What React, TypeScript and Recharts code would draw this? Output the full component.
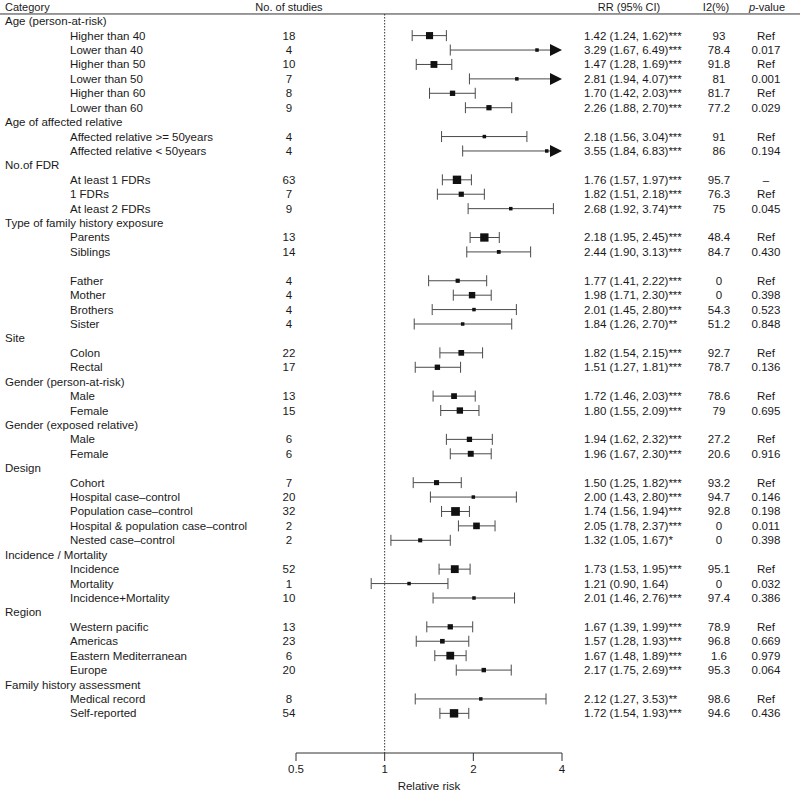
import { ReferenceLine, Scatter, ScatterChart, XAxis, YAxis } from 'recharts'

// one entry per table row; null marks group headings and the blank spacer row
const rowLabels = [
  'Age (person-at-risk)', 'Higher than 40', 'Lower than 40', 'Higher than 50', 'Lower than 50',
  'Higher than 60', 'Lower than 60',
  'Age of affected relative', 'Affected relative >= 50years', 'Affected relative < 50years',
  'No.of FDR', 'At least 1 FDRs', '1 FDRs', 'At least 2 FDRs',
  'Type of family history exposure', 'Parents', 'Siblings', '', 'Father', 'Mother', 'Brothers', 'Sister',
  'Site', 'Colon', 'Rectal',
  'Gender (person-at-risk)', 'Male', 'Female',
  'Gender (exposed relative)', 'Male', 'Female',
  'Design', 'Cohort', 'Hospital case–control', 'Population case–control',
  'Hospital & population case–control', 'Nested case–control',
  'Incidence / Mortality', 'Incidence', 'Mortality', 'Incidence+Mortality',
  'Region', 'Western pacific', 'Americas', 'Eastern Mediterranean', 'Europe',
  'Family history assessment', 'Medical record', 'Self-reported',
]

const groupRows = [0, 7, 10, 14, 22, 25, 28, 31, 37, 41, 46]

const studies = [
  null, 18, 4, 10, 7, 8, 9, null, 4, 4, null, 63, 7, 9, null, 13, 14, null, 4, 4, 4, 4,
  null, 22, 17, null, 13, 15, null, 6, 6, null, 7, 20, 32, 2, 2, null, 52, 1, 10,
  null, 13, 23, 6, 20, null, 8, 54,
]

const rr = [
  null, 1.42, 3.29, 1.47, 2.81, 1.7, 2.26, null, 2.18, 3.55, null, 1.76, 1.82, 2.68, null, 2.18, 2.44, null,
  1.77, 1.98, 2.01, 1.84, null, 1.82, 1.51, null, 1.72, 1.8, null, 1.94, 1.96, null,
  1.5, 2.0, 1.74, 2.05, 1.32, null, 1.73, 1.21, 2.01, null, 1.67, 1.57, 1.67, 2.17, null, 2.12, 1.72,
]

const lower = [
  null, 1.24, 1.67, 1.28, 1.94, 1.42, 1.88, null, 1.56, 1.84, null, 1.57, 1.51, 1.92, null, 1.95, 1.9, null,
  1.41, 1.71, 1.45, 1.26, null, 1.54, 1.27, null, 1.46, 1.55, null, 1.62, 1.67, null,
  1.25, 1.43, 1.56, 1.78, 1.05, null, 1.53, 0.9, 1.46, null, 1.39, 1.28, 1.48, 1.75, null, 1.27, 1.54,
]

const upper = [
  null, 1.62, 6.49, 1.69, 4.07, 2.03, 2.7, null, 3.04, 6.83, null, 1.97, 2.18, 3.74, null, 2.45, 3.13, null,
  2.22, 2.3, 2.8, 2.7, null, 2.15, 1.81, null, 2.03, 2.09, null, 2.32, 2.3, null,
  1.82, 2.8, 1.94, 2.37, 1.67, null, 1.95, 1.64, 2.76, null, 1.99, 1.93, 1.89, 2.69, null, 3.53, 1.93,
]

const stars = [
  '', '***', '***', '***', '***', '***', '***', '', '***', '***', '', '***', '***', '***', '', '***', '***', '',
  '***', '***', '***', '**', '', '***', '***', '', '***', '***', '', '***', '***', '',
  '***', '***', '***', '***', '*', '', '***', '', '***', '', '***', '***', '***', '***', '', '**', '***',
]

const i2 = [
  null, 93, 78.4, 91.8, 81, 81.7, 77.2, null, 91, 86, null, 95.7, 76.3, 75, null, 48.4, 84.7, null,
  0, 0, 54.3, 51.2, null, 92.7, 78.7, null, 78.6, 79, null, 27.2, 20.6, null,
  93.2, 94.7, 92.8, 0, 0, null, 95.1, 0, 97.4, null, 78.9, 96.8, 1.6, 95.3, null, 98.6, 94.6,
]

const pValues = [
  null, 'Ref', '0.017', 'Ref', '0.001', 'Ref', '0.029', null, 'Ref', '0.194', null, '–', 'Ref', '0.045',
  null, 'Ref', '0.430', null, 'Ref', '0.398', '0.523', '0.848', null, 'Ref', '0.136', null, 'Ref', '0.695',
  null, 'Ref', '0.916', null, 'Ref', '0.146', '0.198', '0.011', '0.398', null, 'Ref', '0.032', '0.386',
  null, 'Ref', '0.669', '0.979', '0.064', null, 'Ref', '0.436',
]

const xTicks = [0.5, 1, 2, 4]
const xMax = 4

const font = '"Liberation Sans", Arial, Helvetica, sans-serif'
const ink = '#1a1a1a'

const points = rr
  .map((value, row) =>
    value == null
      ? null
      : {
          row,
          rr: value,
          // box size follows precision (inverse of log CI width)
          box: Math.max(3.5, Math.min(9, 1.9 / Math.log(upper[row]! / lower[row]!))),
        },
  )
  .filter((p) => p != null)

const rowTicks = [-1, ...rowLabels.map((_, i) => i)]

function BoxShape(props: any) {
  const { cx, cy, payload } = props
  const s = payload.box
  return <rect x={cx - s / 2} y={cy - s / 2} width={s} height={s} fill="#111" />
}

function CiShape(props: any) {
  const { x1, y1, x2, y2, arrow } = props
  const cap = 5.5
  const stroke = '#4a4a4a'
  return (
    <g>
      <line x1={x1} y1={y1} x2={arrow ? x2 - 10 : x2} y2={y2} stroke={stroke} strokeWidth={1} />
      <line x1={x1} y1={y1 - cap} x2={x1} y2={y1 + cap} stroke={stroke} strokeWidth={1} />
      {arrow ? (
        <polygon points={`${x2 - 12},${y2 - 6} ${x2},${y2} ${x2 - 12},${y2 + 6}`} fill="#111" />
      ) : (
        <line x1={x2} y1={y2 - cap} x2={x2} y2={y2 + cap} stroke={stroke} strokeWidth={1} />
      )}
    </g>
  )
}

function RowText(props: any) {
  const { y, payload } = props
  const i = payload.value
  const common = { fontFamily: font, fill: ink, dominantBaseline: 'central' as const }

  if (i === -1) {
    return (
      <g>
        <text x={5} y={y} fontSize={11} {...common}>Category</text>
        <text x={289} y={y} fontSize={11} textAnchor="middle" {...common}>No. of studies</text>
        <text x={629} y={y} fontSize={11} textAnchor="middle" {...common}>RR (95% CI)</text>
        <text x={716} y={y} fontSize={11} textAnchor="middle" {...common}>I2(%)</text>
        <text x={767} y={y} fontSize={11} textAnchor="middle" {...common}>
          <tspan fontStyle="italic">p</tspan>-value
        </text>
        <line x1={0} y1={y + 7.2} x2={800} y2={y + 7.2} stroke="#333" strokeWidth={1} />
      </g>
    )
  }

  if (groupRows.includes(i)) {
    return (
      <text x={5} y={y} fontSize={11.5} {...common}>
        {rowLabels[i]}
      </text>
    )
  }

  if (rr[i] == null) return <g />

  return (
    <g>
      <text x={70} y={y} fontSize={11.5} {...common}>{rowLabels[i]}</text>
      <text x={289} y={y} fontSize={11.5} textAnchor="middle" {...common}>{studies[i]}</text>
      <text x={584} y={y} fontSize={11.5} {...common}>
        {`${rr[i]!.toFixed(2)} (${lower[i]!.toFixed(2)}, ${upper[i]!.toFixed(2)})${stars[i]}`}
      </text>
      <text x={719} y={y} fontSize={11.5} textAnchor="middle" {...common}>{i2[i]}</text>
      <text x={766} y={y} fontSize={11.5} textAnchor="middle" {...common}>{pValues[i]}</text>
    </g>
  )
}

export default function App() {
  return (
    <div style={{ position: 'absolute', left: 0, top: 0, width: 800, height: 791, background: '#fff' }}>
      <ScatterChart width={800} height={791} margin={{ top: 0, right: 238, bottom: 0, left: 0 }}>
        <XAxis
          type="number"
          dataKey="rr"
          scale="log"
          domain={[0.5, 4]}
          ticks={xTicks}
          allowDataOverflow
          height={38}
          tickSize={8}
          tickMargin={4}
          stroke="#333"
          tick={{ fill: ink, fontSize: 11.5, fontFamily: font }}
          tickFormatter={(v) => String(v)}
          label={{
            value: 'Relative risk',
            position: 'insideBottom',
            offset: 1,
            fill: ink,
            fontSize: 11.5,
            fontFamily: font,
          }}
        />
        <YAxis
          type="number"
          dataKey="row"
          domain={[-1.47, 50.75]}
          reversed
          allowDataOverflow
          width={296}
          ticks={rowTicks}
          interval={0}
          axisLine={false}
          tickLine={false}
          tick={(p: any) => <RowText {...p} />}
        />
        <ReferenceLine
          segment={[
            { x: 1, y: -0.5 },
            { x: 1, y: 50.75 },
          ]}
          stroke="#333"
          strokeDasharray="1.5 1.5"
        />
        {points.map((p) => (
          <ReferenceLine
            key={p.row}
            segment={[
              { x: lower[p.row]!, y: p.row },
              { x: Math.min(upper[p.row]!, xMax), y: p.row },
            ]}
            shape={(sp: any) => <CiShape {...sp} arrow={upper[p.row]! > xMax} />}
          />
        ))}
        <Scatter data={points} dataKey="rr" shape={BoxShape} isAnimationActive={false} />
      </ScatterChart>
    </div>
  )
}
